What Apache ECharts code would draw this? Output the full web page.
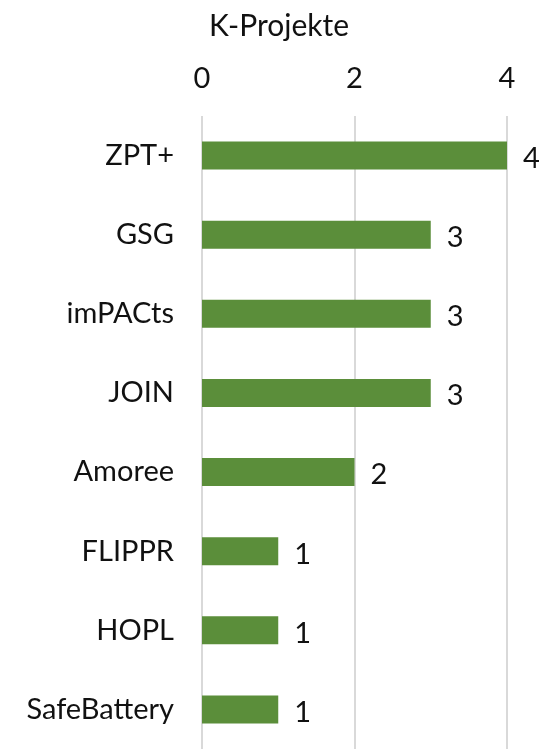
<!DOCTYPE html>
<html>
<head>
<meta charset="utf-8">
<script src="https://cdn.jsdelivr.net/npm/echarts@6/dist/echarts.min.js"></script>
<style>
  html, body { margin: 0; padding: 0; background: #fff; }
  #demo { width: 549px; height: 749px; }
</style>
</head>
<body>
<div id="demo"></div>
<script>
// K-Projekte per project, top to bottom
const projects = ['ZPT+', 'GSG', 'imPACts', 'JOIN', 'Amoree', 'FLIPPR', 'HOPL', 'SafeBattery'];
const counts = [4, 3, 3, 3, 2, 1, 1, 1];
const xTicks = [0, 2, 4];

const font = 'Lato';
let chart = echarts.init(document.getElementById('demo'));
let option = {
	backgroundColor: '#fff',
	animation: false,
	title: {
		text: 'K-Projekte',
		left: 204,
		top: 6,
		textStyle: { fontFamily: font, fontSize: 30, fontWeight: 'normal', color: '#111' }
	},
	grid: { left: 202, right: 42, top: 116, height: 637, containLabel: false },
	xAxis: {
		type: 'value',
		position: 'top',
		min: xTicks[0],
		max: xTicks[xTicks.length - 1],
		interval: xTicks[1] - xTicks[0],
		axisLine: { show: false },
		axisTick: { show: false },
		axisLabel: { fontFamily: font, fontSize: 29, color: '#111', margin: 23 },
		splitLine: { lineStyle: { color: '#d9d9d9', width: 2 } }
	},
	yAxis: {
		type: 'category',
		inverse: true,
		data: projects,
		axisLine: { show: false },
		axisTick: { show: false },
		axisLabel: { fontFamily: font, fontSize: 29, color: '#111', margin: 28 }
	},
	series: [{
		type: 'bar',
		data: counts,
		barWidth: 28,
		itemStyle: { color: '#5b8e3a' },
		label: {
			show: true,
			position: 'right',
			distance: 16,
			offset: [0, 3],
			fontFamily: font,
			fontSize: 29,
			color: '#111'
		}
	}]
};
chart.setOption(option);
</script>
</body>
</html>
